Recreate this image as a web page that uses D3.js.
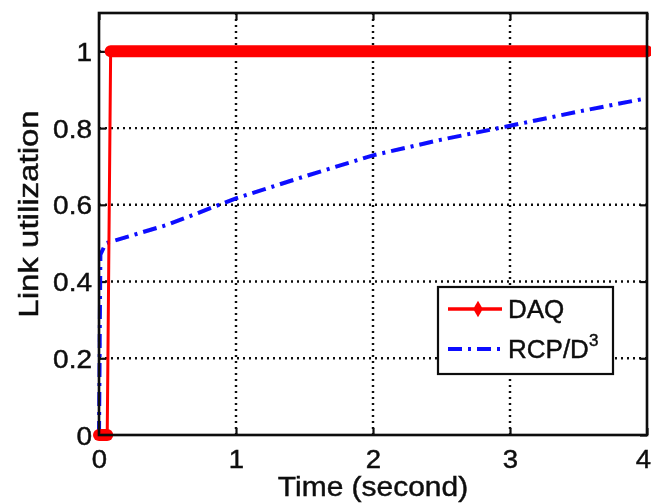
<!DOCTYPE html>
<html>
<head>
<meta charset="utf-8">
<script src="https://cdn.jsdelivr.net/npm/d3@7"></script>
<style>
  html, body { margin: 0; padding: 0; background: #fff; }
  svg { display: block; }
  text { font-family: "Liberation Sans", Arial, Helvetica, sans-serif; fill: #0d0d0d;
         stroke: #0d0d0d; stroke-width: 0.45px; }
  .stretch { transform-box: fill-box; }
</style>
</head>
<body>
<div id="chart"></div>
<script>
// Axis ticks and labels
const xTicks = [0, 1, 2, 3, 4];
const xTickLabels = ["0", "1", "2", "3", "4"];
const yTicks = [0, 0.2, 0.4, 0.6, 0.8, 1];
const yTickLabels = ["0", "0.2", "0.4", "0.6", "0.8", "1"];

// DAQ: link utilization over time
const daqTime  = [0, 0.03, 0.06, 0.085, 4];
const daqValue = [0, 0,    0,    1,     1];

// RCP/D3: link utilization over time
const rcpTime  = [0, 0.01, 0.05, 0.5,   1,     1.5,   2,     2.5,  3,     3.5,   4];
const rcpValue = [0, 0.47, 0.5,  0.548, 0.617, 0.674, 0.729, 0.77, 0.806, 0.843, 0.878];

const seriesNames = ["DAQ", "RCP/D"];

const W = 651, H = 503;
const margin = { top: 13, right: 4, bottom: 68, left: 99 };
const iw = W - margin.left - margin.right;
const ih = H - margin.top - margin.bottom;

const svg = d3.select("#chart").append("svg")
  .attr("width", W).attr("height", H);

// slight softening of the whole drawing
svg.append("defs").append("filter").attr("id", "soft")
  .append("feGaussianBlur").attr("stdDeviation", 0.45);

const root = svg.append("g").attr("filter", "url(#soft)");
const g = root.append("g").attr("transform", `translate(${margin.left},${margin.top})`);

const x = d3.scaleLinear().domain([0, 4]).range([0, iw]);
const y = d3.scaleLinear().domain([0, 1.1]).range([ih, 0]);

// dotted grid
const gridStyle = sel => sel.attr("stroke", "#111").attr("stroke-width", 2.4)
  .attr("stroke-dasharray", "2,4").attr("fill", "none");
g.append("g").selectAll("line").data(xTicks.slice(1, -1)).join("line")
  .attr("x1", d => x(d)).attr("x2", d => x(d)).attr("y1", 0).attr("y2", ih)
  .call(gridStyle);
g.append("g").selectAll("line").data(yTicks.slice(1)).join("line")
  .attr("x1", 0).attr("x2", iw).attr("y1", d => y(d)).attr("y2", d => y(d))
  .call(gridStyle);

// axes with inward ticks on all four sides
const tickLen = 7;
function styleAxis(a) {
  a.select(".domain").remove();
  a.selectAll(".tick line").attr("stroke", "#111").attr("stroke-width", 2.2);
}
const xAxis = g.append("g").attr("transform", `translate(0,${ih})`)
  .call(d3.axisBottom(x).tickValues(xTicks).tickFormat((d, i) => xTickLabels[i])
    .tickSizeInner(-tickLen).tickSizeOuter(0).tickPadding(18))
  .call(styleAxis);
xAxis.selectAll(".tick text").attr("font-size", 25).attr("y", 33).attr("dy", 0)
  .attr("dx", (d, i) => i === xTicks.length - 1 ? -4 : 0)
  .attr("class", "stretch").style("transform-origin", "center").style("transform", "scaleX(1.1)");

const yAxis = g.append("g")
  .call(d3.axisLeft(y).tickValues(yTicks).tickFormat((d, i) => yTickLabels[i])
    .tickSizeInner(-tickLen).tickSizeOuter(0).tickPadding(7))
  .call(styleAxis);
yAxis.selectAll(".tick text").attr("font-size", 25).attr("x", -7).attr("dy", "0.36em")
  .attr("class", "stretch").style("transform-origin", "right center").style("transform", "scaleX(1.12)");

g.append("g").call(d3.axisTop(x).tickValues(xTicks).tickFormat("")
  .tickSizeInner(-tickLen).tickSizeOuter(0)).call(styleAxis);
g.append("g").attr("transform", `translate(${iw},0)`)
  .call(d3.axisRight(y).tickValues(yTicks).tickFormat("")
    .tickSizeInner(-tickLen).tickSizeOuter(0)).call(styleAxis);

// series
const line = d3.line().x(d => x(d[0])).y(d => y(d[1]));
const rcpPts = rcpTime.map((t, i) => [t, rcpValue[i]]);
const daqPts = daqTime.map((t, i) => [t, daqValue[i]]);

g.append("path").datum(rcpPts).attr("d", line)
  .attr("fill", "none").attr("stroke", "#0a0aff").attr("stroke-width", 4)
  .attr("stroke-dasharray", "14,6,3,6");

g.append("path").datum(daqPts).attr("d", line)
  .attr("fill", "none").attr("stroke", "#ff0000").attr("stroke-width", 3)
  .attr("stroke-linejoin", "round");

// DAQ markers: dense run of samples along each flat stretch
const flatRuns = [];
for (let i = 0; i < daqPts.length - 1; i++) {
  if (daqPts[i][1] === daqPts[i + 1][1]) flatRuns.push([daqPts[i], daqPts[i + 1]]);
}
g.append("g").selectAll("path").data(flatRuns).join("path")
  .attr("d", d => line(d))
  .attr("fill", "none").attr("stroke", "#ff0000").attr("stroke-width", 12)
  .attr("stroke-linecap", "round");

// frame
g.append("rect").attr("x", 0).attr("y", 0).attr("width", iw).attr("height", ih)
  .attr("fill", "none").attr("stroke", "#111").attr("stroke-width", 2.6);

// axis titles
root.append("text").attr("x", margin.left + iw / 2).attr("y", 496)
  .attr("text-anchor", "middle").attr("font-size", 28)
  .attr("class", "stretch").style("transform-origin", "center").style("transform", "scaleX(1.07)")
  .text("Time (second)");
root.append("text").attr("transform", "translate(38,214) rotate(-90) scale(1.18,1)")
  .attr("text-anchor", "middle").attr("font-size", 28)
  .text("Link utilization");

// legend
const lg = root.append("g").attr("transform", "translate(438,287)");
lg.append("rect").attr("width", 175).attr("height", 87)
  .attr("fill", "#fff").attr("stroke", "#111").attr("stroke-width", 2.2);
const rowY = [22, 62];
lg.append("line").attr("x1", 10).attr("x2", 64).attr("y1", rowY[0]).attr("y2", rowY[0])
  .attr("stroke", "#ff0000").attr("stroke-width", 3.5);
lg.append("path").attr("d", d3.symbol(d3.symbolDiamond, 80)())
  .attr("transform", `translate(40,${rowY[0]})`).attr("fill", "#ff0000");
lg.append("line").attr("x1", 10).attr("x2", 64).attr("y1", rowY[1]).attr("y2", rowY[1])
  .attr("stroke", "#0a0aff").attr("stroke-width", 4).attr("stroke-dasharray", "14,6,3,6");
lg.append("text").attr("x", 70).attr("y", rowY[0] + 9).attr("font-size", 26).text(seriesNames[0]);
const t2 = lg.append("text").attr("x", 70).attr("y", rowY[1] + 9).attr("font-size", 26);
t2.append("tspan").text(seriesNames[1]);
t2.append("tspan").attr("font-size", 17).attr("dy", -12).text("3");
</script>
</body>
</html>
